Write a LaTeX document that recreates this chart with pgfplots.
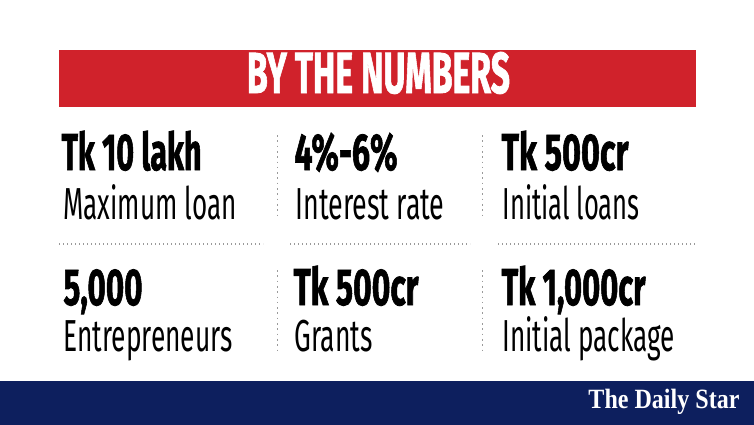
\documentclass[border=0pt]{standalone}
\usepackage{pgfplots}
\pgfplotsset{compat=1.18}
\usepackage{fontspec}
\usepackage{graphicx}
\setmainfont{Fira Sans}
\newfontfamily\heavyfont[FakeBold=1.6]{Fira Sans Bold}
\newfontfamily\logofont{Liberation Serif}
\definecolor{dsred}{HTML}{D0222B}
\definecolor{dsnavy}{HTML}{0D1F5E}
\definecolor{dotgray}{HTML}{9A9A9A}
\newsavebox\tbox
\newcommand\fitw[2]{\sbox\tbox{#2}\pgfmathsetmacro\fr{(#1)/(\the\wd\tbox)}\scalebox{\fr}[1]{\usebox\tbox}}
\newcommand\val[1]{{\fontsize{52}{56}\selectfont\heavyfont #1}}
\newcommand\lab[1]{{\fontsize{45}{50}\selectfont #1}}
\begin{document}
\begin{tikzpicture}
\begin{axis}[
  width=754bp, height=425bp, scale only axis,
  xmin=0, xmax=754, ymin=0, ymax=425, y dir=reverse,
  hide axis, clip=false,
  every node/.style={inner sep=0pt, outer sep=0pt},
]
% background
\addplot[fill=white, draw=none] coordinates {(0,0) (754,0) (754,425) (0,425)} --cycle;
% red title bar
\addplot[fill=dsred, draw=none] coordinates {(59,50.5) (696,50.5) (696,107.5) (59,107.5)} --cycle;
% navy footer
\addplot[fill=dsnavy, draw=none] coordinates {(0,381) (754,381) (754,425) (0,425)} --cycle;
% horizontal dotted separators
\addplot[dotgray, line width=1.3bp, dash pattern=on 1.3bp off 2.7bp] coordinates {(59,244) (263,244)};
\addplot[dotgray, line width=1.3bp, dash pattern=on 1.3bp off 2.7bp] coordinates {(290,244) (470,244)};
\addplot[dotgray, line width=1.3bp, dash pattern=on 1.3bp off 2.7bp] coordinates {(498,244) (696,244)};
% vertical dotted separators
\addplot[dotgray, line width=1.6bp, dash pattern=on 1.6bp off 3.7bp] coordinates {(277.5,135) (277.5,219)};
\addplot[dotgray, line width=1.6bp, dash pattern=on 1.6bp off 3.7bp] coordinates {(482.5,135) (482.5,219)};
\addplot[dotgray, line width=1.6bp, dash pattern=on 1.6bp off 3.7bp] coordinates {(277.5,270) (277.5,354)};
\addplot[dotgray, line width=1.6bp, dash pattern=on 1.6bp off 3.7bp] coordinates {(482.5,270) (482.5,354)};
% title
\node[anchor=base, text=white] at (axis cs:378.5,93) {\fitw{263bp}{{\fontsize{58}{62}\selectfont\heavyfont BY THE NUMBERS}}};
% row 1
\node[anchor=base west] at (axis cs:58,170) {\fitw{140bp}{\val{Tk 10 lakh}}};
\node[anchor=base west] at (axis cs:60,219) {\fitw{173bp}{\lab{Maximum loan}}};
\node[anchor=base west] at (axis cs:291,170) {\fitw{103bp}{\val{4\%-6\%}}};
\node[anchor=base west] at (axis cs:292,219) {\fitw{149bp}{\lab{Interest rate}}};
\node[anchor=base west] at (axis cs:498,170) {\fitw{127bp}{\val{Tk 500cr}}};
\node[anchor=base west] at (axis cs:499,219) {\fitw{137bp}{\lab{Initial loans}}};
% row 2
\node[anchor=base west] at (axis cs:60,305) {\fitw{79bp}{\val{5,000}}};
\node[anchor=base west] at (axis cs:60,351) {\fitw{169bp}{\lab{Entrepreneurs}}};
\node[anchor=base west] at (axis cs:290,305) {\fitw{125bp}{\val{Tk 500cr}}};
\node[anchor=base west] at (axis cs:291,351) {\fitw{78bp}{\lab{Grants}}};
\node[anchor=base west] at (axis cs:498,305) {\fitw{144bp}{\val{Tk 1,000cr}}};
\node[anchor=base west] at (axis cs:499,351) {\fitw{172bp}{\lab{Initial package}}};
% logo
\node[anchor=base east, text=white] at (axis cs:743,408) {\fitw{151bp}{{\fontsize{28}{30}\selectfont\logofont\bfseries The Daily Star}}};
\end{axis}
\end{tikzpicture}
\end{document}
